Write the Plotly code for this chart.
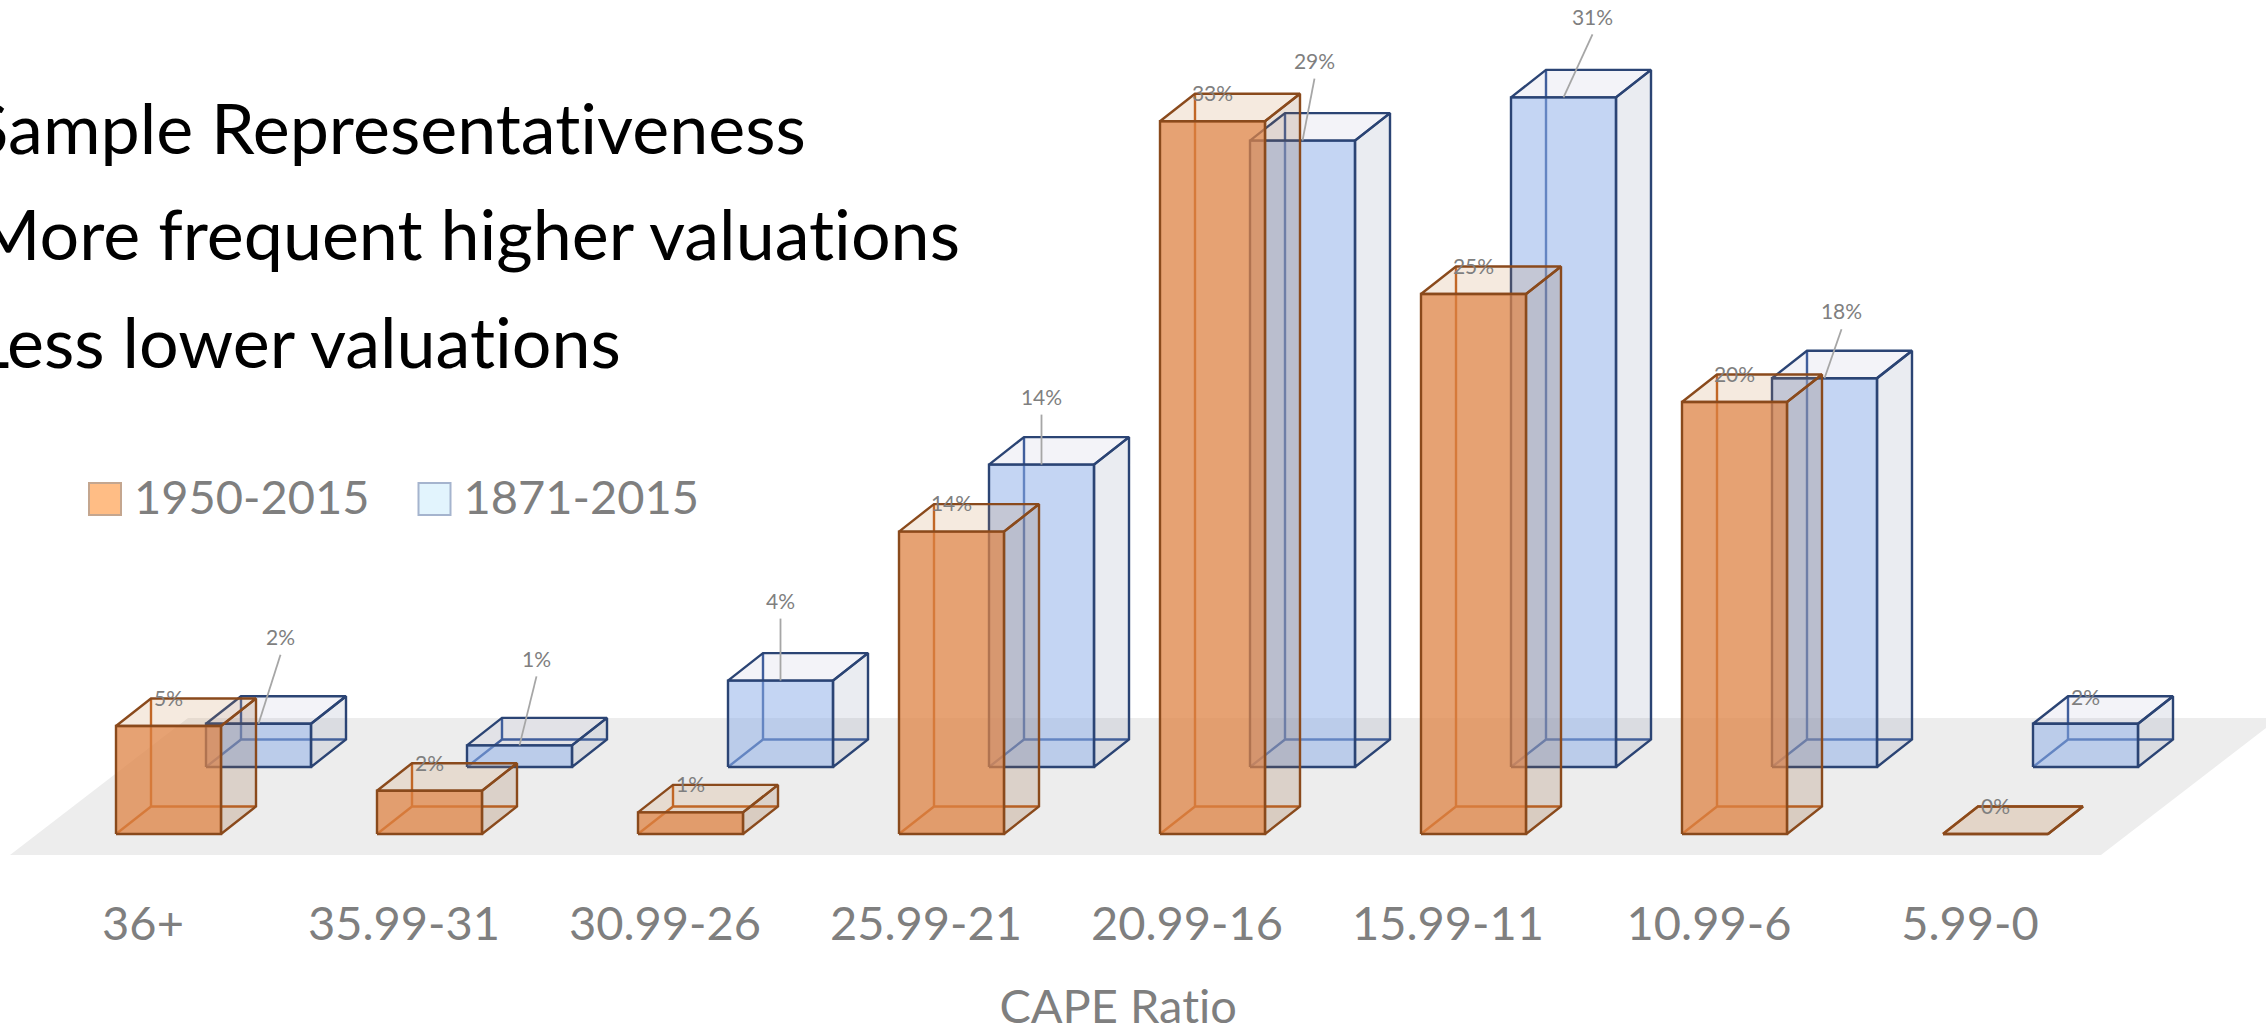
import plotly.graph_objects as go

categories = ["36+", "35.99-31", "30.99-26", "25.99-21", "20.99-16", "15.99-11", "10.99-6", "5.99-0"]
series_1950 = [5, 2, 1, 14, 33, 25, 20, 0]
series_1871 = [2, 1, 4, 14, 29, 31, 18, 2]
# leader-label offsets of the 1871-2015 labels, in px from the top of the bar's front face
label_dx_1871 = [22, 17, 0, 0, 12, 29, 17, 0]
label_dy_1871 = [-86, -86, -79, -67, -79, -80, -66, -26]

W, H = 2266, 1028
PLOT_H = 892
PX_PER_CAT = 261.0
PX_PER_PCT = 21.6
X0_PX = 143.0          # pixel of category 0's tick label
Y0_PX = 834.0          # pixel of the baseline of the front row
LABEL_NUDGE = 2.0      # px, downward, for the percentage labels

def ux(px):
    return px / PX_PER_CAT
def uy(px):
    return px / PX_PER_PCT

BAR_W = ux(105)
DX, DY = ux(35), uy(27.5)
ORANGE_X = ux(116 - X0_PX)
BLUE_X, BLUE_Y = ux(206 - X0_PX), uy(834 - 767)


def faces(values, x_off, y_off):
    back, side, top, front, back_lines = ([[], []] for _ in range(5))
    def add(store, xs, ys):
        store[0] += list(xs) + [None]
        store[1] += list(ys) + [None]
    for i, v in enumerate(values):
        l = i + x_off
        r = l + BAR_W
        b = y_off
        t = y_off + v
        add(back, [l, r, r + DX, l + DX, l], [b, b, b + DY, b + DY, b])
        add(back_lines, [l, l + DX, r + DX], [b, b + DY, b + DY])
        add(back_lines, [l + DX, l + DX], [b + DY, t + DY])
        add(side, [r, r + DX, r + DX, r, r], [b, b + DY, t + DY, t, b])
        add(top, [l, r, r + DX, l + DX, l], [t, t, t + DY, t + DY, t])
        add(front, [l, r, r, l, l], [b, b, t, t, b])
    return back, back_lines, side, top, front


fig = go.Figure()


def poly(store, fill, line, width=2.4, name=None):
    fig.add_trace(go.Scatter(x=store[0], y=store[1], mode="lines", fill="toself", fillcolor=fill,
                             line=dict(color=line, width=width), hoverinfo="skip", showlegend=False,
                             name=name))


# floor
floor_l, floor_r = ux(10 - X0_PX), ux(2101 - X0_PX)
floor_b, floor_dy = uy(834 - 855), uy(137)
floor_dx = ux(178)
poly([[floor_l, floor_r, floor_r + floor_dx, floor_l + floor_dx, floor_l],
      [floor_b, floor_b, floor_b + floor_dy, floor_b + floor_dy, floor_b]],
     "#EDEDED", "rgba(0,0,0,0)", 0)


def draw(values, x_off, y_off, line, inner, back_fill, side_fill, top_fill, front_fill):
    back, back_lines, side, top, front = faces(values, x_off, y_off)
    poly(back, back_fill, "rgba(0,0,0,0)", 0)
    fig.add_trace(go.Scatter(x=back_lines[0], y=back_lines[1], mode="lines",
                             line=dict(color=inner, width=2.4), hoverinfo="skip", showlegend=False))
    poly(side, side_fill, line)
    poly(top, top_fill, line)
    poly(front, front_fill, line)


draw(series_1871, BLUE_X, BLUE_Y, "#2B4474", "#3F5F9C",
     "rgba(255,255,255,0)", "rgba(90,110,150,0.13)", "rgba(80,90,160,0.07)", "rgba(137,171,231,0.5)")
draw(series_1950, ORANGE_X, 0, "#8A4A1C", "#C0601E",
     "rgba(200,120,60,0.05)", "rgba(150,100,60,0.2)", "rgba(200,140,80,0.18)", "rgba(221,131,68,0.75)")

# leaders for the 1871-2015 series (the last label sits on the box and has none)
lx, ly = [], []
for i, v in enumerate(series_1871):
    if i == len(series_1871) - 1:
        continue
    cx = i + BLUE_X + BAR_W / 2
    top_y = BLUE_Y + v
    lx += [cx + ux(label_dx_1871[i]), cx, None]
    ly += [top_y - uy(label_dy_1871[i]) - uy(17), top_y, None]
fig.add_trace(go.Scatter(x=lx, y=ly, mode="lines", line=dict(color="#A6A6A6", width=1.8),
                         hoverinfo="skip", showlegend=False))

LABEL_FONT = dict(family="Lato", size=21, color="#7F7F7F")
fig.add_trace(go.Scatter(
    x=[i + BLUE_X + BAR_W / 2 + ux(d) for i, d in enumerate(label_dx_1871)],
    y=[BLUE_Y + v - uy(d) - uy(LABEL_NUDGE) for v, d in zip(series_1871, label_dy_1871)],
    text=[f"{v}%" for v in series_1871], mode="text", textposition="middle center",
    textfont=LABEL_FONT, hoverinfo="skip", showlegend=False, cliponaxis=False))
fig.add_trace(go.Scatter(
    x=[i + ORANGE_X + BAR_W / 2 for i in range(len(categories))],
    y=[v + DY - uy(LABEL_NUDGE) for v in series_1950],
    text=[f"{v}%" for v in series_1950], mode="text", textposition="middle center",
    textfont=LABEL_FONT, hoverinfo="skip", showlegend=False, cliponaxis=False))

# legend
legend_items = [("1950-2015", 105.0, 134.0, "#FFBD85", "#C4A68F"),
                ("1871-2015", 434.5, 463.5, "#E2F4FD", "#A5B4CE")]
for name, px, text_px, fill, edge in legend_items:
    fig.add_trace(go.Scatter(
        x=[ux(px - X0_PX)], y=[uy(Y0_PX - 499)], mode="markers",
        marker=dict(symbol="square", size=32, color=fill, line=dict(color=edge, width=2)),
        hoverinfo="skip", showlegend=False, name=name))
    fig.add_trace(go.Scatter(
        x=[ux(text_px - X0_PX)], y=[uy(Y0_PX - 502)], mode="text", text=[name],
        textposition="middle right", textfont=dict(family="Lato", size=47, color="#7F7F7F"),
        hoverinfo="skip", showlegend=False, name=name))

annotations = []
for text, right, cy in [("Sample Representativeness", 808, 127),
                        ("More frequent higher valuations", 963, 233),
                        ("Less lower valuations", 623, 341)]:
    annotations.append(dict(text=text, x=right / W, xref="paper", xanchor="right",
                            y=(PLOT_H - cy) / PLOT_H, yref="paper", yanchor="middle", showarrow=False,
                            font=dict(family="Lato", size=70, color="#000000")))
annotations.append(dict(text="CAPE Ratio", x=1118 / W, xref="paper", xanchor="center",
                        y=(PLOT_H - 1005) / PLOT_H, yref="paper", yanchor="middle", showarrow=False,
                        font=dict(family="Lato", size=47, color="#7F7F7F")))

fig.update_layout(
    width=W, height=H, margin=dict(l=0, r=0, t=0, b=H - PLOT_H),
    paper_bgcolor="white", plot_bgcolor="white", showlegend=False, annotations=annotations,
    xaxis=dict(range=[ux(-X0_PX), ux(W - X0_PX)], tickmode="array", tickvals=list(range(len(categories))),
               ticktext=categories, showgrid=False, zeroline=False, showline=False, ticks="",
               tickfont=dict(family="Lato", size=47, color="#7F7F7F"), ticklabelstandoff=0),
    yaxis=dict(range=[uy(Y0_PX - PLOT_H), uy(Y0_PX)], visible=False, showgrid=False, zeroline=False),
)
fig.write_html("out.html", config={"displayModeBar": False}, post_script=(
    "document.body.style.margin='0';document.body.style.overflow='hidden';"
    "var s=document.createElement('style');"
    "s.textContent='svg text{font-variant-ligatures:none !important;"
    "font-feature-settings:\"liga\" 0,\"clig\" 0 !important;}';document.head.appendChild(s);"))
